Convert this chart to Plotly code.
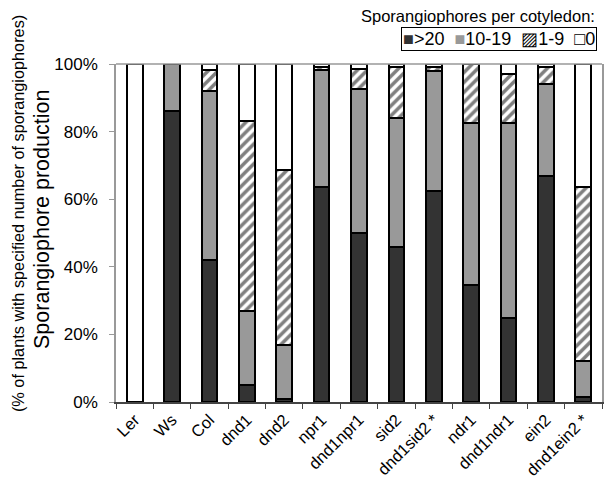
import plotly.graph_objects as go

categories = ["Ler", "Ws", "Col", "dnd1", "dnd2", "npr1", "dnd1npr1", "sid2",
              "dnd1sid2 *", "ndr1", "dnd1ndr1", "ein2", "dnd1ein2 *"]
gt20 = [0, 86, 42, 5, 1, 63.5, 50, 46, 62.5, 34.5, 25, 67, 1.5]
s10_19 = [0, 14, 50, 22, 16, 34.7, 42.6, 38, 35.5, 48, 57.5, 27, 10.5]
s1_9 = [0, 0, 6.2, 56, 51.7, 1.0, 5.9, 15.2, 1.0, 17.5, 14.6, 5, 51.5]
s0 = [100, 0, 1.8, 17, 31.3, 0.8, 1.5, 0.8, 1.0, 0, 2.9, 1, 36.5]
legend_names = [">20", "10-19", "1-9", "0"]
legend_title = "Sporangiophores per cotyledon:"
y_ticks = [0, 20, 40, 60, 80, 100]
y_tick_text = ["0%", "20%", "40%", "60%", "80%", "100%"]
y_title_main = "Sporangiophore production"
y_title_sub = "(% of plants with specified number of sporangiophores)"

FONT = "Liberation Sans, Arial, Helvetica, sans-serif"
line = dict(color="black", width=2)

fig = go.Figure()
fig.add_trace(go.Bar(x=categories, y=gt20, name=legend_names[0],
                     marker=dict(color="#333333", line=line)))
fig.add_trace(go.Bar(x=categories, y=s10_19, name=legend_names[1],
                     marker=dict(color="#999999", line=line)))
fig.add_trace(go.Bar(x=categories, y=s1_9, name=legend_names[2],
                     marker=dict(color="white", line=line,
                                 pattern=dict(shape="/", fgcolor="black", bgcolor="white",
                                              size=7, solidity=0.5))))
fig.add_trace(go.Bar(x=categories, y=s0, name=legend_names[3],
                     marker=dict(color="white", line=line)))

gap = "&nbsp;&nbsp;"
legend_text = (
    "<span style='color:#333333'>■</span>" + legend_names[0] + gap
    + "<span style='color:#999999'>■</span>" + legend_names[1] + gap
    + "▨" + legend_names[2] + gap
    + "□" + legend_names[3]
)

fig.update_layout(
    width=605, height=480,
    barmode="stack", bargap=0.58,
    plot_bgcolor="white", paper_bgcolor="white",
    font=dict(family=FONT, size=16, color="black"),
    margin=dict(l=108, r=11, t=56, b=86),
    showlegend=False,
    annotations=[
        dict(text=legend_title, xref="paper", yref="paper",
             x=0.9897, y=1.1746, xanchor="right", yanchor="top", showarrow=False,
             font=dict(size=16.5)),
        dict(text=legend_text, xref="paper", yref="paper",
             x=0.9897, y=1.1095, xanchor="right", yanchor="top", showarrow=False,
             font=dict(size=18), bordercolor="black", borderwidth=1, borderpad=1,
             bgcolor="white"),
        dict(text=y_title_main, xref="paper", yref="paper", textangle=-90,
             x=-0.1523, y=0.5414, xanchor="center", yanchor="middle", showarrow=False,
             font=dict(size=21.5)),
        dict(text=y_title_sub, xref="paper", yref="paper", textangle=-90,
             x=-0.2016, y=0.556, xanchor="center", yanchor="middle", showarrow=False,
             font=dict(size=16.3)),
    ],
    shapes=[dict(type="line", xref="paper", yref="paper", x0=0, x1=1, y0=1, y1=1,
                 line=dict(color="#999999", width=1.5), layer="above")],
)
fig.update_xaxes(showline=True, linecolor="#444444", linewidth=1.5, mirror=False,
                 ticks="outside", ticklen=5, tickcolor="#444444", tickson="boundaries",
                 tickangle=-45, tickfont=dict(size=16.5), showgrid=False, automargin=False)
fig.update_yaxes(range=[0, 100], tickvals=y_ticks, ticktext=y_tick_text,
                 showline=True, linecolor="#999999", linewidth=1.5, mirror=True,
                 ticks="outside", ticklen=5, tickcolor="#999999", ticklabelstandoff=8,
                 tickfont=dict(size=17), showgrid=False, zeroline=False, automargin=False)
fig.write_html("out.html")
